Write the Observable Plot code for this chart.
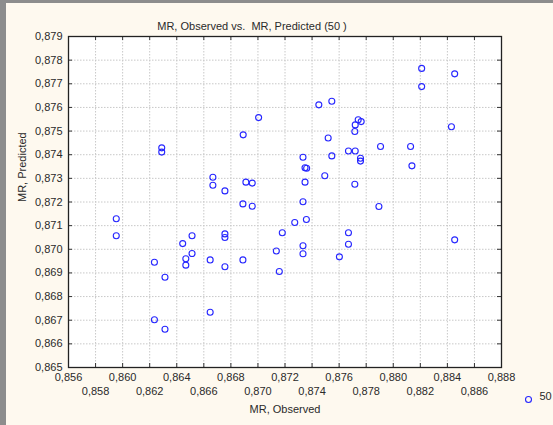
<!DOCTYPE html>
<html>
<head>
<meta charset="utf-8">
<script src="https://cdn.jsdelivr.net/npm/d3@7"></script>
<script src="https://cdn.jsdelivr.net/npm/@observablehq/plot@0.6"></script>
<style>
  html, body { margin: 0; padding: 0; background: #fef9ef; }
  #c { position: relative; width: 553px; height: 425px; background: #fef9ef; overflow: hidden; }
  #c svg { position: absolute; left: 0; top: 0; }
  .bl { position: absolute; left: 0; top: 0; width: 6px; height: 425px; background: #8d8d8d; }
  .bt { position: absolute; left: 0; top: 0; width: 553px; height: 3px; background: #8d8d8d; }
</style>
</head>
<body>
<div id="c"><div class="bl"></div><div class="bt"></div></div>
<script>
const title = "MR, Observed vs.  MR, Predicted (50 )";
const xLabel = "MR, Observed";
const yLabel = "MR, Predicted";
const legendLabel = "50";

const observed = [
  0.86289, 0.86289, 0.86667, 0.86667, 0.86756, 0.86891, 0.87005, 0.87450, 0.87546, 0.87741,
  0.87763, 0.87719, 0.87716, 0.87519, 0.87906, 0.87669, 0.87719, 0.87333, 0.87546, 0.87758,
  0.87758, 0.87348, 0.87360, 0.87494, 0.86911, 0.86958, 0.87348, 0.87716, 0.87333, 0.88210,
  0.88454, 0.88210, 0.88430, 0.88128, 0.88138, 0.85953, 0.85953, 0.86889, 0.86513, 0.86444,
  0.86756, 0.86756, 0.86513, 0.86235, 0.86467, 0.86467, 0.86647, 0.86756, 0.86889, 0.86313,
  0.86647, 0.86235, 0.86313, 0.86958, 0.87894, 0.87272, 0.87358, 0.87180, 0.87669, 0.87333,
  0.87669, 0.87136, 0.87333, 0.87602, 0.87158, 0.88454
];
const predicted = [
  0.87429, 0.87411, 0.87305, 0.87271, 0.87247, 0.87484, 0.87557, 0.87611, 0.87626, 0.87548,
  0.87540, 0.87526, 0.87498, 0.87471, 0.87435, 0.87416, 0.87416, 0.87389, 0.87395, 0.87385,
  0.87373, 0.87345, 0.87343, 0.87311, 0.87284, 0.87280, 0.87284, 0.87275, 0.87201, 0.87765,
  0.87742, 0.87688, 0.87518, 0.87435, 0.87353, 0.87129, 0.87057, 0.87192, 0.87057, 0.87024,
  0.87065, 0.87050, 0.86982, 0.86945, 0.86960, 0.86933, 0.86955, 0.86926, 0.86955, 0.86882,
  0.86734, 0.86702, 0.86662, 0.87182, 0.87181, 0.87113, 0.87126, 0.87070, 0.87070, 0.87015,
  0.87021, 0.86993, 0.86981, 0.86968, 0.86906, 0.87040
];

const xTicksRow1 = [0.856, 0.860, 0.864, 0.868, 0.872, 0.876, 0.880, 0.884, 0.888];
const xTicksRow2 = [0.858, 0.862, 0.866, 0.870, 0.874, 0.878, 0.882, 0.886];
const yTicks = [0.865, 0.866, 0.867, 0.868, 0.869, 0.870, 0.871, 0.872, 0.873, 0.874, 0.875, 0.876, 0.877, 0.878, 0.879];

const xTicks = xTicksRow1.concat(xTicksRow2).sort((a, b) => a - b);
const points = observed.map((o, i) => ({obs: o, pred: predicted[i]}));
const fmt = d => d3.format(".3f")(d).replace(".", ",");

const font = "'Liberation Sans', Arial, sans-serif";
const txt = "#2a2a2a";

const chart = Plot.plot({
  width: 553,
  height: 425,
  marginLeft: 68,
  marginRight: 52,
  marginTop: 36,
  marginBottom: 58,
  style: {background: "transparent", fontFamily: font, fontSize: "11px", overflow: "visible"},
  x: {domain: [0.856, 0.888], axis: null},
  y: {domain: [0.865, 0.879], axis: null},
  marks: [
    Plot.frame({fill: "white", stroke: null}),
    Plot.ruleX(xTicks, {x: d => d, stroke: "#c8c8c8", strokeDasharray: "1.5,1.5"}),
    Plot.ruleY(yTicks, {y: d => d, stroke: "#c8c8c8", strokeDasharray: "1.5,1.5"}),
    Plot.tickX(xTicks, {x: d => d, insetTop: 327, stroke: "#333"}),
    Plot.tickX(xTicks, {x: d => d, insetBottom: 327, stroke: "#333"}),
    Plot.tickY(yTicks, {y: d => d, insetRight: 429, stroke: "#333"}),
    Plot.tickY(yTicks, {y: d => d, insetLeft: 429, stroke: "#333"}),
    Plot.frame({stroke: "#222", strokeWidth: 1.3}),
    Plot.dot(points, {x: "obs", y: "pred", r: 3, stroke: "#2626ff", strokeWidth: 1.1, fill: "none"}),
    Plot.text(xTicksRow1, {x: d => d, frameAnchor: "bottom", dy: 13, text: fmt, fill: txt}),
    Plot.text(xTicksRow2, {x: d => d, frameAnchor: "bottom", dy: 27, text: fmt, fill: txt}),
    Plot.text(yTicks, {y: d => d, frameAnchor: "left", dx: -6, textAnchor: "end", text: fmt, fill: txt}),
    Plot.text([title], {frameAnchor: "top", dx: -33, dy: -14, text: d => d, fill: txt}),
    Plot.text([xLabel], {frameAnchor: "bottom", dy: 45, text: d => d, fill: txt}),
    Plot.text([yLabel], {frameAnchor: "left", dx: -46, rotate: -90, text: d => d, fill: txt}),
    Plot.dot([legendLabel], {frameAnchor: "bottom-right", dx: 27, dy: 32, r: 3, stroke: "#2626ff", strokeWidth: 1.1, fill: "none"}),
    Plot.text([legendLabel], {frameAnchor: "bottom-right", dx: 38, dy: 32, textAnchor: "start", text: d => d, fill: txt})
  ]
});
document.getElementById("c").prepend(chart);
</script>
</body>
</html>
